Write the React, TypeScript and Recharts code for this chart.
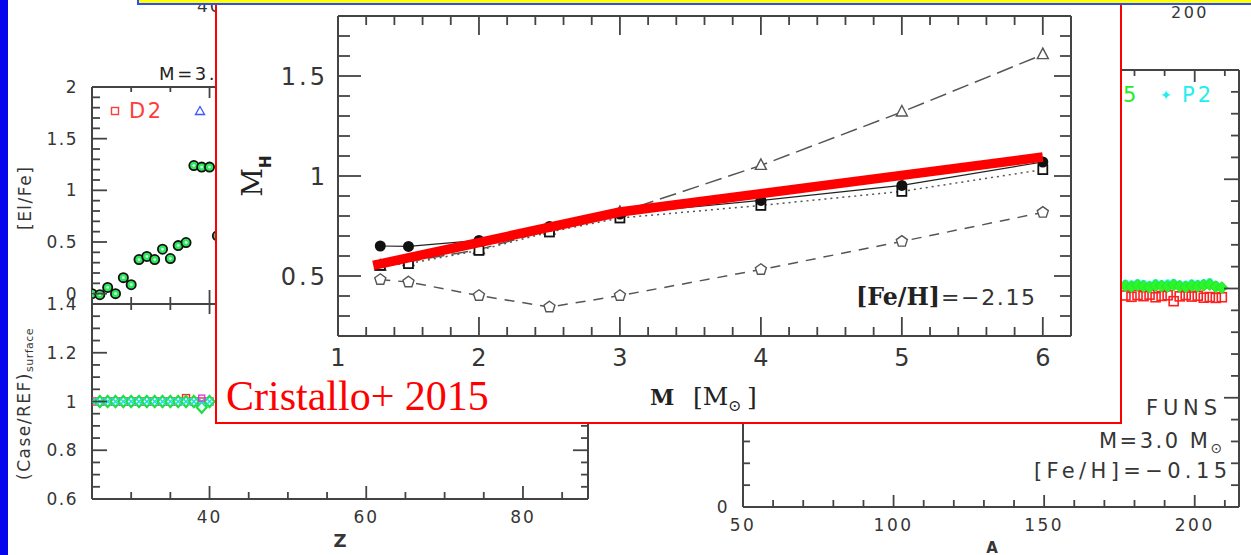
import React from 'react';
import { Scatter, ScatterChart, XAxis, YAxis } from 'recharts';

// main panel (Cristallo+ 2015): M_H vs initial mass at [Fe/H] = -2.15
const massX = [1.3, 1.5, 2, 2.5, 3, 4, 5, 6];
const mhFilled = [0.65, 0.648, 0.678, 0.748, 0.81, 0.878, 0.953, 1.07];
const mhSquare = [0.553, 0.562, 0.628, 0.72, 0.79, 0.853, 0.923, 1.032];
const mhTriangle = [0.55, 0.572, 0.632, 0.73, 0.818, 1.053, 1.32, 1.607];
const mhPentagon = [0.482, 0.47, 0.402, 0.345, 0.402, 0.532, 0.673, 0.818];
const fitMass = [1.25, 3, 6];
const fitMh = [0.553, 0.82, 1.095];
const massTicks = [1, 1.2, 1.4, 1.6, 1.8, 2, 2.2, 2.4, 2.6, 2.8, 3, 3.2, 3.4, 3.6, 3.8, 4, 4.2, 4.4, 4.6, 4.8, 5, 5.2, 5.4, 5.6, 5.8, 6, 6.2];
const massMajor = [1, 2, 3, 4, 5, 6];
const mhTicks = [0.2, 0.3, 0.4, 0.5, 0.6, 0.7, 0.8, 0.9, 1, 1.1, 1.2, 1.3, 1.4, 1.5, 1.6, 1.7, 1.8];
const mhMajor = [0.5, 1, 1.5];

// background left plot: [El/Fe] and (Case/REF) vs Z
const elZ = [25, 26, 27, 28, 29, 30, 31, 32, 33, 34, 35, 36, 37, 38, 39, 40, 41];
const elFe = [0.0, -0.01, 0.06, 0.0, 0.155, 0.087, 0.33, 0.36, 0.33, 0.43, 0.34, 0.465, 0.495, 1.24, 1.225, 1.225, 0.56];
const ratioZ = [25, 26, 27, 28, 29, 30, 31, 32, 33, 34, 35, 36, 37, 38, 39, 40];
const ratioCyan = [1, 1, 1, 1, 1, 1, 1, 1, 1, 1, 1, 1, 1, 1, 1, 1];
const ratioRed = [1, 1, 1, 1, 1, 1, 1, 1, 1, 1, 1, 1, 1.014, 1, 1, 1];
const greenZ = [26, 27, 28, 29, 30, 31, 32, 33, 34, 35, 36, 37, 38, 39, 40];
const ratioGreen = [1, 1, 1, 1, 1, 1, 1, 1, 1, 1, 1, 1, 1, 0.976, 1];
const magentaZ = [39];
const ratioMagenta = [1.014];
const zTicks = [25, 30, 35, 40, 45, 50, 55, 60, 65, 70, 75, 80, 85];
const zMajor = [40, 60, 80];
const elTicks = [-0.1, 0, 0.1, 0.2, 0.3, 0.4, 0.5, 0.6, 0.7, 0.8, 0.9, 1, 1.1, 1.2, 1.3, 1.4, 1.5, 1.6, 1.7, 1.8, 1.9, 2];
const elMajor = [0, 0.5, 1, 1.5, 2];
const ratioTicks = [0.6, 0.65, 0.7, 0.75, 0.8, 0.85, 0.9, 0.95, 1, 1.05, 1.1, 1.15, 1.2, 1.25, 1.3, 1.35, 1.4];
const ratioMajor = [0.6, 0.8, 1, 1.2, 1.4];

// background right plot: ratios vs A (FUNS, 3 Msun, [Fe/H]=-0.15)
const massA = [177, 179, 181, 183, 185, 187, 189, 191, 193, 195, 197, 199, 201, 203, 205, 207, 209];
const aGreen = [1.012, 1.008, 1.015, 1.01, 1.006, 1.014, 1.011, 1.009, 1.016, 1.01, 1.007, 1.013, 1.01, 1.015, 1.018, 1.008, 1.004];
const aCyan = [1.025, 1.022, 1.028, 1.024, 1.02, 1.027, 1.023, 1.026, 1.029, 1.022, 1.021, 1.026, 1.024, 1.028, 1.032, 1.02, 1.012];
const aRed = [0.968, 0.962, 0.97, 0.965, 0.972, 0.96, 0.966, 0.969, 0.942, 0.964, 0.97, 0.963, 0.967, 0.958, 0.961, 0.957, 0.96];
const aTicks = [50, 60, 70, 80, 90, 100, 110, 120, 130, 140, 150, 160, 170, 180, 190, 200, 210];
const aMajor = [50, 100, 150, 200];
const rTicks = [0, 0.1, 0.2, 0.3, 0.4, 0.5, 0.6, 0.7, 0.8, 0.9, 1, 1.1, 1.2, 1.3, 1.4, 1.5, 1.6, 1.7, 1.8, 1.9, 2];
const rMajor = [0, 0.5, 1, 1.5, 2];

const AXIS = '#444';
const INK = '#363636';
const SANS = '"DejaVu Sans", Verdana, sans-serif';
const SERIF = '"DejaVu Serif", serif';
const TIMES = '"Liberation Serif", "Times New Roman", serif';

const toPoints = (xs: number[], ys: number[]) => xs.map((x, i) => ({ x, y: ys[i] }));

type Side = 'top' | 'bottom' | 'left' | 'right';
interface TickOpts {
  side: Side;
  major: number[];
  majorLen: number;
  minorLen: number;
  label?: boolean;
  gap?: number;
  fontSize?: number;
  spacing?: number;
}

// inward tick marks (major/minor) plus an optional label, drawn at the axis position
function makeTick(o: TickOpts) {
  return (p: any) => {
    const v = Number(p.payload.value);
    const x = Number(p.x);
    const y = Number(p.y);
    const isMajor = o.major.some((m) => Math.abs(m - v) < 1e-6);
    const len = isMajor ? o.majorLen : o.minorLen;
    const d = { top: [0, len], bottom: [0, -len], left: [len, 0], right: [-len, 0] }[o.side];
    const fs = o.fontSize ?? 17;
    const txt = { fontSize: fs, fontFamily: SANS, fill: INK, letterSpacing: o.spacing ?? 2 };
    let label = null;
    if (o.label && isMajor && o.side === 'bottom') {
      label = <text x={x} y={y + (o.gap ?? 24)} textAnchor="middle" {...txt}>{String(v)}</text>;
    }
    if (o.label && isMajor && o.side === 'left') {
      label = <text x={x - (o.gap ?? 14)} y={y + fs * 0.36} textAnchor="end" {...txt}>{String(v)}</text>;
    }
    return (
      <g>
        <path d={`M${x},${y}L${x + d[0]},${y + d[1]}`} stroke={AXIS} strokeWidth={1.8} fill="none" />
        {label}
      </g>
    );
  };
}

interface FrameOpts {
  xDomain: [number, number];
  yDomain: [number, number];
  xTicks: number[];
  yTicks: number[];
  bottom: TickOpts;
  top: TickOpts;
  left: TickOpts;
  right: TickOpts;
  bottomH: number;
  leftW: number;
}

// four axes boxing the plot; the mirrored ones are 1px so that recharts still draws them
function frame(f: FrameOpts) {
  const line = { stroke: AXIS, strokeWidth: 2 };
  const common = { type: 'number' as const, tickSize: 0, tickMargin: 0, tickLine: false, interval: 0 as const, stroke: AXIS, axisLine: line, allowDataOverflow: true };
  return [
    <XAxis key="b" xAxisId="b" orientation="bottom" dataKey="x" domain={f.xDomain} ticks={f.xTicks} height={f.bottomH} tick={makeTick(f.bottom)} {...common} />,
    <XAxis key="t" xAxisId="t" orientation="top" dataKey="x" domain={f.xDomain} ticks={f.xTicks} height={1} tick={makeTick(f.top)} {...common} />,
    <YAxis key="l" yAxisId="l" orientation="left" dataKey="y" domain={f.yDomain} ticks={f.yTicks} width={f.leftW} tick={makeTick(f.left)} {...common} />,
    <YAxis key="r" yAxisId="r" orientation="right" dataKey="y" domain={f.yDomain} ticks={f.yTicks} width={1} tick={makeTick(f.right)} {...common} />,
  ];
}

// marker shapes
const filledCircle = (p: any) => <circle cx={p.cx} cy={p.cy} r={5.5} fill="#111" />;
const openSquare = (p: any) => <rect x={p.cx - 4.5} y={p.cy - 4.5} width={9} height={9} fill="#fff" stroke="#111" strokeWidth={1.8} />;
const openTriangle = (p: any) => (
  <polygon points={`${p.cx},${p.cy - 6.5} ${p.cx - 5.5},${p.cy + 4} ${p.cx + 5.5},${p.cy + 4}`} fill="#fff" stroke="#555" strokeWidth={1.4} />
);
const openPentagon = (p: any) => {
  const r = 5.8;
  const pts = [0, 1, 2, 3, 4]
    .map((k) => {
      const a = -Math.PI / 2 + (k * 2 * Math.PI) / 5;
      return `${p.cx + r * Math.cos(a)},${p.cy + r * Math.sin(a)}`;
    })
    .join(' ');
  return <polygon points={pts} fill="#fff" stroke="#555" strokeWidth={1.4} />;
};
const noMarker = () => <g />;
const greenRing = (p: any) => (
  <g>
    <circle cx={p.cx} cy={p.cy} r={4.6} fill="#2ee85a" stroke="#111" strokeWidth={1.8} />
    <circle cx={p.cx} cy={p.cy} r={1.4} fill="#c8fff0" />
  </g>
);
const greenDiamond = (p: any) => (
  <polygon points={`${p.cx},${p.cy - 5.5} ${p.cx + 5},${p.cy} ${p.cx},${p.cy + 5.5} ${p.cx - 5},${p.cy}`} fill="#e8ffff" stroke="#1fe03c" strokeWidth={2.2} />
);
const cyanCross = (p: any) => (
  <path d={`M${p.cx - 3.5},${p.cy - 3.5}L${p.cx + 3.5},${p.cy + 3.5}M${p.cx - 3.5},${p.cy + 3.5}L${p.cx + 3.5},${p.cy - 3.5}`} stroke="#22dddd" strokeWidth={1.5} />
);
const redSquare = (p: any) => <rect x={p.cx - 3.5} y={p.cy - 3.5} width={7} height={7} fill="none" stroke="#ff2a2a" strokeWidth={1.4} />;
const magentaSquare = (p: any) => <rect x={p.cx - 3} y={p.cy - 3} width={6} height={6} fill="none" stroke="#dd33dd" strokeWidth={1.3} />;
const bandGreen = (p: any) => (
  <polygon points={`${p.cx},${p.cy - 6} ${p.cx + 6},${p.cy} ${p.cx},${p.cy + 6} ${p.cx - 6},${p.cy}`} fill="#2cf52c" stroke="#22e622" strokeWidth={1} />
);
const bandCyan = (p: any) => <circle cx={p.cx} cy={p.cy} r={3.5} fill="#33f5f5" />;
const bandRed = (p: any) => <rect x={p.cx - 4.5} y={p.cy - 4.5} width={9} height={9} fill="none" stroke="#ff2020" strokeWidth={1.6} />;

// an unseen series on the mirrored axes
const mirrorAnchor = (data: { x: number; y: number }[]) => (
  <Scatter key="mirror" xAxisId="t" yAxisId="r" data={data} shape={noMarker} isAnimationActive={false} />
);

function MainChart() {
  return (
    <ScatterChart width={880} height={420} margin={{ top: 15, right: 24, bottom: 0, left: 0 }}>
      {frame({
        xDomain: [1, 6.2],
        yDomain: [0.2, 1.8],
        xTicks: massTicks,
        yTicks: mhTicks,
        bottom: { side: 'bottom', major: massMajor, majorLen: 19, minorLen: 9, label: true, gap: 30, fontSize: 24, spacing: 0 },
        top: { side: 'top', major: massMajor, majorLen: 19, minorLen: 9 },
        left: { side: 'left', major: mhMajor, majorLen: 23, minorLen: 12, label: true, gap: 10, fontSize: 24, spacing: 3 },
        right: { side: 'right', major: mhMajor, majorLen: 17, minorLen: 11 },
        bottomH: 84,
        leftW: 122,
      })}
      <Scatter xAxisId="b" yAxisId="l" data={toPoints(massX, mhPentagon)} line={{ stroke: '#555', strokeWidth: 1.5, strokeDasharray: '10 8' }} shape={openPentagon} isAnimationActive={false} />
      <Scatter xAxisId="b" yAxisId="l" data={toPoints(massX, mhTriangle)} line={{ stroke: '#555', strokeWidth: 1.5, strokeDasharray: '17 7' }} shape={openTriangle} isAnimationActive={false} />
      <Scatter xAxisId="b" yAxisId="l" data={toPoints(massX, mhSquare)} line={{ stroke: '#555', strokeWidth: 1.5, strokeDasharray: '2 4' }} shape={openSquare} isAnimationActive={false} />
      <Scatter xAxisId="b" yAxisId="l" data={toPoints(massX, mhFilled)} line={{ stroke: '#222', strokeWidth: 1.2 }} shape={filledCircle} isAnimationActive={false} />
      <Scatter xAxisId="b" yAxisId="l" data={toPoints(fitMass, fitMh)} line={{ stroke: '#ff0000', strokeWidth: 9.5 }} shape={noMarker} isAnimationActive={false} />
      {mirrorAnchor(toPoints(massX, mhFilled))}
    </ScatterChart>
  );
}

function LeftTop() {
  return (
    <ScatterChart width={600} height={245} margin={{ top: 26, right: 11, bottom: 0, left: 0 }}>
      {frame({
        xDomain: [25, 88.3],
        yDomain: [-0.1, 2],
        xTicks: zTicks,
        yTicks: elTicks,
        bottom: { side: 'bottom', major: zMajor, majorLen: 14, minorLen: 7 },
        top: { side: 'top', major: zMajor, majorLen: 11, minorLen: 5 },
        left: { side: 'left', major: elMajor, majorLen: 15, minorLen: 8, label: true, gap: 14, fontSize: 17, spacing: 1.5 },
        right: { side: 'right', major: elMajor, majorLen: 15, minorLen: 8 },
        bottomH: 1,
        leftW: 92,
      })}
      <Scatter xAxisId="b" yAxisId="l" data={toPoints(elZ, elFe)} shape={greenRing} isAnimationActive={false} />
      {mirrorAnchor(toPoints(elZ, elFe))}
    </ScatterChart>
  );
}

function LeftBottom() {
  return (
    <ScatterChart width={600} height={265} margin={{ top: 13, right: 11, bottom: 0, left: 0 }}>
      {frame({
        xDomain: [25, 88.3],
        yDomain: [0.6, 1.4],
        xTicks: zTicks,
        yTicks: ratioTicks,
        bottom: { side: 'bottom', major: zMajor, majorLen: 13, minorLen: 7, label: true, gap: 24, fontSize: 17, spacing: 2 },
        top: { side: 'top', major: zMajor, majorLen: 10, minorLen: 6 },
        left: { side: 'left', major: ratioMajor, majorLen: 15, minorLen: 8, label: true, gap: 14, fontSize: 17, spacing: 1.5 },
        right: { side: 'right', major: ratioMajor, majorLen: 15, minorLen: 7 },
        bottomH: 56,
        leftW: 92,
      })}
      <Scatter xAxisId="b" yAxisId="l" data={toPoints(ratioZ, ratioRed)} shape={redSquare} isAnimationActive={false} />
      <Scatter xAxisId="b" yAxisId="l" data={toPoints(greenZ, ratioGreen)} shape={greenDiamond} isAnimationActive={false} />
      <Scatter xAxisId="b" yAxisId="l" data={toPoints(ratioZ, ratioCyan)} shape={cyanCross} isAnimationActive={false} />
      <Scatter xAxisId="b" yAxisId="l" data={toPoints(magentaZ, ratioMagenta)} shape={magentaSquare} isAnimationActive={false} />
      {mirrorAnchor(toPoints(ratioZ, ratioCyan))}
    </ScatterChart>
  );
}

function RightPlot() {
  return (
    <ScatterChart width={551} height={505} margin={{ top: 19, right: 11, bottom: 0, left: 0 }}>
      {frame({
        xDomain: [50, 214.7],
        yDomain: [0, 2],
        xTicks: aTicks,
        yTicks: rTicks,
        bottom: { side: 'bottom', major: aMajor, majorLen: 12, minorLen: 7, label: true, gap: 24, fontSize: 17, spacing: 2.5 },
        top: { side: 'top', major: aMajor, majorLen: 12, minorLen: 6 },
        left: { side: 'left', major: rMajor, majorLen: 12, minorLen: 7, label: true, gap: 14, fontSize: 17, spacing: 1.5 },
        right: { side: 'right', major: rMajor, majorLen: 15, minorLen: 8 },
        bottomH: 48,
        leftW: 43,
      })}
      <Scatter xAxisId="b" yAxisId="l" data={toPoints(massA, aRed)} shape={bandRed} isAnimationActive={false} />
      <Scatter xAxisId="b" yAxisId="l" data={toPoints(massA, aCyan)} shape={bandCyan} isAnimationActive={false} />
      <Scatter xAxisId="b" yAxisId="l" data={toPoints(massA, aGreen)} shape={bandGreen} isAnimationActive={false} />
      {mirrorAnchor(toPoints(massA, aGreen))}
    </ScatterChart>
  );
}

const abs = (left: number, top: number): React.CSSProperties => ({ position: 'absolute', left, top });

export default function App() {
  const t = { fontFamily: SANS, fill: INK };
  return (
    <div style={{ position: 'absolute', left: 0, top: 0, width: 1251, height: 555, overflow: 'hidden', background: '#fff' }}>
      <div style={abs(0, 60)}><LeftTop /></div>
      <div style={abs(0, 290)}><LeftBottom /></div>
      <div style={abs(700, 50)}><RightPlot /></div>

      {/* labels of the background plots */}
      <svg width={1251} height={555} style={abs(0, 0)}>
        <text x={197} y={12} fontSize={17} letterSpacing={2} {...t}>40</text>
        <text x={159} y={80} fontSize={18} letterSpacing={2.6} {...t} fill="#222">M=3.0</text>
        <rect x={111.5} y={107.5} width={7} height={7} fill="none" stroke="#ff3b3b" strokeWidth={1.4} />
        <text x={129} y={118} fontSize={21} letterSpacing={2.5} fontFamily={SANS} fill="#ff3b3b">D2</text>
        <polygon points="200,106.5 195.5,114.5 204.5,114.5" fill="none" stroke="#3a55ff" strokeWidth={1.3} />
        <text x={31} y={230} transform="rotate(-90, 31, 230)" fontSize={17} letterSpacing={1.5} {...t}>[El/Fe]</text>
        <text x={30} y={480} transform="rotate(-90, 30, 480)" fontSize={17} letterSpacing={1.5} {...t}>
          (Case/REF)<tspan fontSize={11} dy={3} letterSpacing={0.5}>surface</tspan>
        </text>
        <text x={340} y={547} fontSize={18} textAnchor="middle" fontWeight="bold" {...t}>Z</text>
        <text x={992} y={553} fontSize={15} textAnchor="middle" fontWeight="bold" {...t}>A</text>
        <text x={1171} y={18} fontSize={16} letterSpacing={2.5} {...t}>200</text>
        <text x={1123} y={102} fontSize={21} fontFamily={SANS} fill="#22ee22">5</text>
        <text x={1160} y={100} fontSize={14} fontFamily={SANS} fill="#22eeee">✦</text>
        <text x={1182} y={102} fontSize={21} letterSpacing={3} fontFamily={SANS} fill="#22eeee">P2</text>
        <text x={1146} y={415} fontSize={21} textLength={71} lengthAdjust="spacing" {...t}>FUNS</text>
        <text x={1099} y={448} fontSize={21} letterSpacing={2.5} {...t}>
          M=3.0 M<tspan fontSize={14} dy={5}>⊙</tspan>
        </text>
        <text x={1034} y={478} fontSize={21} textLength={193} lengthAdjust="spacing" {...t}>[Fe/H]=−0.15</text>
      </svg>

      {/* the inset */}
      <div style={{ ...abs(215, -10), width: 907, height: 434, border: '2px solid #ff0000', background: '#fff', boxSizing: 'border-box' }} />
      <div style={abs(216, 0)}><MainChart /></div>
      <svg width={1251} height={555} style={abs(0, 0)}>
        <text x={262} y={176} transform="rotate(-90, 262, 176)" textAnchor="middle" fontSize={28} fontFamily={SERIF} fill="#222">
          M<tspan fontSize={15} dy={9} fontFamily={SANS} fontWeight="bold">H</tspan>
        </text>
        <text x={650} y={405} fontSize={22} fontFamily={SERIF} fill="#222">
          <tspan fontWeight="bold">M</tspan>
          <tspan x={693} fontSize={25}>[M</tspan>
          <tspan x={728} dy={6} fontSize={16}>⊙</tspan>
          <tspan x={747} dy={-6} fontSize={25}>]</tspan>
        </text>
        <text x={856} y={305} fontSize={24} fontFamily={SERIF} fontWeight="bold" fill="#222" textLength={84} lengthAdjust="spacingAndGlyphs">[Fe/H]</text>
        <text x={941} y={305} fontSize={22} fontFamily={SANS} fill="#333" textLength={94} lengthAdjust="spacing">=−2.15</text>
        <text x={226} y={410} fontSize={42} fontFamily={TIMES} fill="#ff0000">Cristallo+ 2015</text>
      </svg>

      {/* slide decoration */}
      <div style={{ ...abs(137, -10), width: 1200, height: 15, background: '#ffff00', border: '2px solid #2b4cff', boxSizing: 'border-box' }} />
      <div style={{ ...abs(0, 0), width: 8, height: 555, background: '#0505ee' }} />
    </div>
  );
}
